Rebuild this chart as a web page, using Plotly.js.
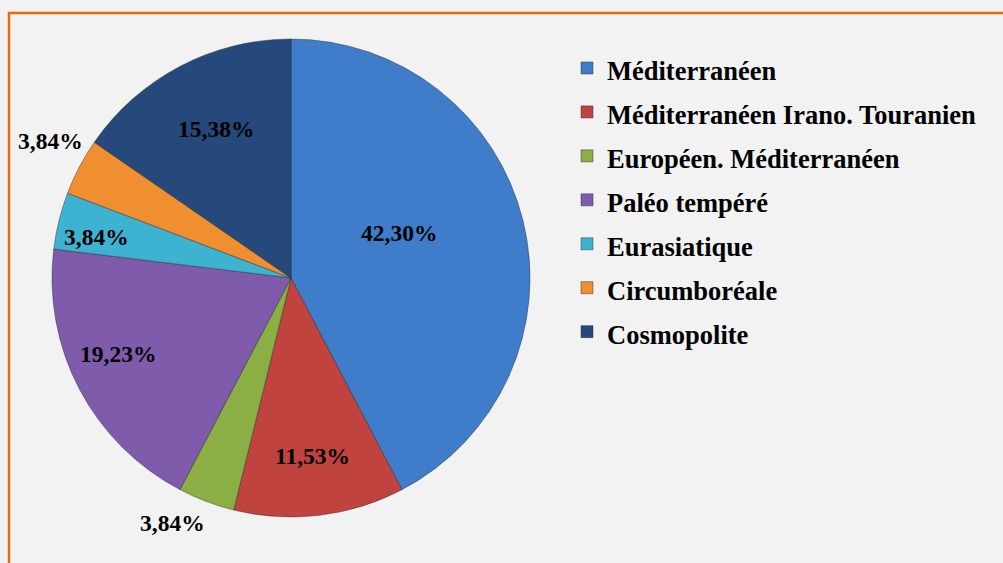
<!DOCTYPE html>
<html>
<head>
<meta charset="utf-8">
<script src="https://cdn.plot.ly/plotly-3.0.1.min.js"></script>
<style>html,body{margin:0;padding:0;background:#f2f2f2;}#chart{width:1003px;height:563px;}</style>
</head>
<body>
<div id="chart"></div>
<script>
// ---- data ----
const categories = ["Méditerranéen", "Méditerranéen Irano. Touranien", "Européen. Méditerranéen", "Paléo tempéré", "Eurasiatique", "Circumboréale", "Cosmopolite"];
const percentages = [42.30, 11.53, 3.84, 19.23, 3.84, 3.84, 15.38];
const sliceColors = ["#3F7DCA", "#C0433F", "#8BAE45", "#7F5CAB", "#3EB3D1", "#F08F30", "#24497A"];

// ---- style / layout constants ----
const W = 1003, H = 563;
const cx = 291, cy = 278, R = 239;
const labelRadius = [0.49, 0.75, 1.14, 0.79, 0.83, 1.16, 0.70];
const labelAngleShift = [-9, 0, 5, 4, -2, 2, 1];
const serif = "Liberation Serif, Times New Roman, serif";

const fmt = v => v.toFixed(2).replace('.', ',') + '%';
const total = percentages.reduce((a, b) => a + b, 0);

const annotations = [];
let cum = 0;
percentages.forEach((v, i) => {
  const theta = (360 * (cum + v / 2) / total + labelAngleShift[i]) * Math.PI / 180;
  cum += v;
  const px = cx + labelRadius[i] * R * Math.sin(theta);
  const py = cy - labelRadius[i] * R * Math.cos(theta);
  annotations.push({
    xref: 'paper', yref: 'paper', x: px / W, y: 1 - py / H,
    xanchor: 'center', yanchor: 'middle', showarrow: false,
    text: '<b>' + fmt(v) + '</b>',
    font: {family: serif, size: 23.5, color: '#000'}
  });
});

const trace = {
  type: 'pie',
  labels: categories.map(c => '<span style="font-size:26.5px">' + c + '</span>'),
  values: percentages,
  sort: false,
  direction: 'clockwise',
  rotation: 0,
  textinfo: 'none',
  hoverinfo: 'label+percent',
  marker: {colors: sliceColors, line: {color: 'rgba(40,40,40,0.45)', width: 1}},
  domain: {x: [(cx - R) / W, (cx + R) / W], y: [1 - (cy + R) / H, 1 - (cy - R) / H]}
};

const layout = {
  width: W, height: H,
  margin: {l: 0, r: 0, t: 0, b: 0},
  paper_bgcolor: '#f2f2f2',
  plot_bgcolor: '#f2f2f2',
  showlegend: true,
  legend: {
    x: 567 / W, xanchor: 'left', y: 1 - 41 / H, yanchor: 'top',
    bgcolor: 'rgba(0,0,0,0)',
    font: {family: serif, size: 31.5, color: '#000', weight: 'bold'}
  },
  annotations: annotations,
  shapes: [{
    type: 'rect', xref: 'paper', yref: 'paper',
    x0: 9 / W, x1: 1.02, y0: -0.02, y1: 1 - 13 / H,
    line: {color: '#E46C0A', width: 2.5}, fillcolor: 'rgba(0,0,0,0)'
  }]
};

Plotly.newPlot('chart', [trace], layout, {displayModeBar: false, staticPlot: true});
</script>
</body>
</html>
